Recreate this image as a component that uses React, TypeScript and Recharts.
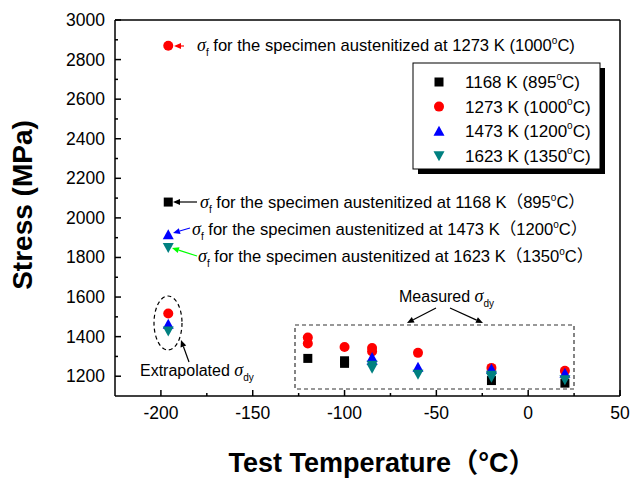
import React from 'react';
import {
  ScatterChart,
  Scatter,
  XAxis,
  YAxis,
  ReferenceLine,
  Customized,
} from 'recharts';

const FONT = "'Liberation Sans', Arial, 'Noto Sans CJK SC', sans-serif";
const SERIF = "'Liberation Serif', 'Times New Roman', serif";

// test temperature (°C) and stress (MPa) for each austenitizing temperature
const temps1168 = [-196, -120, -100, -100, -20, 20];
const stress1168 = [2080, 1290, 1265, 1278, 1178, 1165];

const temps1273 = [-196, -196, -120, -120, -100, -85, -85, -60, -20, 20];
const stress1273 = [2870, 1517, 1395, 1365, 1348, 1343, 1325, 1318, 1242, 1228];

const temps1473 = [-196, -196, -85, -85, -60, -20, 20];
const stress1473 = [1915, 1462, 1295, 1280, 1245, 1237, 1215];

const temps1623 = [-196, -196, -85, -85, -60, -20, -20, 20];
const stress1623 = [1850, 1428, 1255, 1240, 1210, 1205, 1195, 1182];

const xTicks = [-200, -175, -150, -125, -100, -75, -50, -25, 0, 25, 50];
const yTicks = [1200, 1300, 1400, 1500, 1600, 1700, 1800, 1900, 2000, 2100, 2200, 2300, 2400, 2500, 2600, 2700, 2800, 2900, 3000];

const toPoints = (xs: number[], ys: number[]) => xs.map((x, i) => ({ x, y: ys[i] }));

const Square = (p: any) => <rect x={p.cx - 4.5} y={p.cy - 4.5} width={9} height={9} fill="#000" />;
const Dot = (p: any) => <circle cx={p.cx} cy={p.cy} r={5} fill="#ff0000" />;
const Up = (p: any) => (
  <polygon points={`${p.cx},${p.cy - 5.5} ${p.cx + 5.5},${p.cy + 4.5} ${p.cx - 5.5},${p.cy + 4.5}`} fill="#0000ff" />
);
const Down = (p: any) => (
  <polygon points={`${p.cx - 5.5},${p.cy - 4.5} ${p.cx + 5.5},${p.cy - 4.5} ${p.cx},${p.cy + 5.5}`} fill="#008080" />
);

const XTick = (props: any) => {
  const { x, y, payload } = props;
  const major = payload.value % 50 === 0;
  return (
    <g>
      <line x1={x} y1={y} x2={x} y2={y - (major ? 6 : 3)} stroke="#000" strokeWidth={1.5} />
      {major && (
        <text x={x} y={y + 23} textAnchor="middle" fontSize={17.5} fontFamily={FONT} fill="#000">
          {payload.value}
        </text>
      )}
    </g>
  );
};

const YTick = (props: any) => {
  const { x, y, payload } = props;
  const major = (payload.value - 1200) % 200 === 0;
  return (
    <g>
      <line x1={x} y1={y} x2={x + (major ? 6 : 3)} y2={y} stroke="#000" strokeWidth={1.5} />
      {major && (
        <text x={x - 10} y={y + 6} textAnchor="end" fontSize={17.5} fontFamily={FONT} fill="#000">
          {payload.value}
        </text>
      )}
    </g>
  );
};

const Arrow = ({ x1, y1, x2, y2, color }: any) => {
  const a = Math.atan2(y2 - y1, x2 - x1);
  const len = 7;
  const w = 3;
  const bx = x2 - len * Math.cos(a);
  const by = y2 - len * Math.sin(a);
  const px = -Math.sin(a) * w;
  const py = Math.cos(a) * w;
  return (
    <g>
      <line x1={x1} y1={y1} x2={bx} y2={by} stroke={color} strokeWidth={1.2} />
      <polygon points={`${x2},${y2} ${bx + px},${by + py} ${bx - px},${by - py}`} fill={color} />
    </g>
  );
};

// σf note next to each fracture-stress point
const SigmaNote = ({ x, y, kelvin, celsius, open, close }: any) => (
  <text x={x} y={y} fontSize={16.6} fontFamily={FONT} fill="#000">
    <tspan fontFamily={SERIF} fontStyle="italic" fontSize={18}>σ</tspan>
    <tspan fontSize={10} dy={5}>f</tspan>
    <tspan dy={-5}>{` for the specimen austenitized at ${kelvin} K${open}${celsius}`}</tspan>
    <tspan fontSize={10} dy={-7}>o</tspan>
    <tspan dy={7}>{`C${close}`}</tspan>
  </text>
);

const legendRows = [
  { label: '1168 K (895', shape: 'square' },
  { label: '1273 K (1000', shape: 'dot' },
  { label: '1473 K (1200', shape: 'up' },
  { label: '1623 K (1350', shape: 'down' },
];

const Overlay = () => (
  <g>
    {/* legend box with drop shadow */}
    <rect x={418} y={68} width={187} height={106} fill="#000" />
    <rect x={413} y={63} width={187} height={106} fill="#fff" stroke="#000" strokeWidth={1} />
    {legendRows.map((r, i) => {
      const cy = 82 + i * 24.6;
      const cx = 439;
      return (
        <g key={r.label}>
          {r.shape === 'square' && <Square cx={cx} cy={cy} />}
          {r.shape === 'dot' && <Dot cx={cx} cy={cy} />}
          {r.shape === 'up' && <Up cx={cx} cy={cy} />}
          {r.shape === 'down' && <Down cx={cx} cy={cy} />}
          <text x={465} y={cy + 6} fontSize={17} fontFamily={FONT} fill="#000">
            {r.label}
            <tspan fontSize={10} dy={-8}>o</tspan>
            <tspan dy={8}>C)</tspan>
          </text>
        </g>
      );
    })}

    {/* fracture stress notes */}
    <Arrow x1={184} y1={46} x2={174} y2={46} color="#ff0000" />
    <SigmaNote x={197} y={51} kelvin={1273} celsius={1000} open=" (" close=")" />
    <Arrow x1={197} y1={202} x2={173} y2={202} color="#000" />
    <SigmaNote x={200} y={208} kelvin={1168} celsius={895} open="（" close="）" />
    <Arrow x1={190} y1={228} x2={173} y2={233} color="#0000ff" />
    <SigmaNote x={192} y={235} kelvin={1473} celsius={1200} open="（" close="）" />
    <Arrow x1={197} y1={256} x2={172} y2={248} color="#00ff00" />
    <SigmaNote x={198} y={262} kelvin={1623} celsius={1350} open="（" close="）" />

    {/* measured yield stress group */}
    <rect x={295} y={325} width={279} height={64} fill="none" stroke="#333" strokeWidth={1.2} strokeDasharray="4 3" />
    <text x={399} y={302} fontSize={16} fontFamily={FONT} fill="#000">
      Measured <tspan fontFamily={SERIF} fontStyle="italic" fontSize={18}>σ</tspan>
      <tspan fontSize={10} dy={5}>dy</tspan>
    </text>
    <Arrow x1={436} y1={308} x2={407} y2={323} color="#000" />
    <Arrow x1={450} y1={308} x2={483} y2={323} color="#000" />

    {/* extrapolated yield stress group */}
    <ellipse cx={168} cy={323} rx={14} ry={27} fill="none" stroke="#000" strokeWidth={1.2} strokeDasharray="4 3" />
    <Arrow x1={189} y1={362} x2={181} y2={340} color="#000" />
    <text x={140} y={376} fontSize={16} fontFamily={FONT} fill="#000">
      Extrapolated <tspan fontFamily={SERIF} fontStyle="italic" fontSize={18}>σ</tspan>
      <tspan fontSize={10} dy={5}>dy</tspan>
    </text>

    {/* axis titles */}
    <text transform="translate(32,205) rotate(-90)" textAnchor="middle" fontSize={28} fontWeight="bold" fontFamily={FONT} fill="#000">
      Stress (MPa)
    </text>
    <text x={382} y={472} textAnchor="middle" fontSize={27} fontWeight="bold" fontFamily={FONT} fill="#000">
      Test Temperature（°C）
    </text>
  </g>
);

export default function App() {
  return (
    <div style={{ position: 'absolute', left: 0, top: 0, background: '#fff' }}>
      <ScatterChart width={632} height={479} margin={{ top: 20, right: 12, bottom: 0, left: 0 }}>
        <XAxis
          type="number"
          dataKey="x"
          domain={[-225, 50]}
          ticks={xTicks}
          interval={0}
          height={83}
          tickSize={0}
          tickMargin={0}
          tick={<XTick />}
          axisLine={{ stroke: '#000', strokeWidth: 1.5 }}
          allowDataOverflow
        />
        <YAxis
          type="number"
          dataKey="y"
          domain={[1100, 3000]}
          ticks={yTicks}
          interval={0}
          width={115}
          tickSize={0}
          tickMargin={0}
          tick={<YTick />}
          axisLine={{ stroke: '#000', strokeWidth: 1.5 }}
          allowDataOverflow
        />
        <ReferenceLine y={3000} stroke="#000" strokeWidth={1.5} />
        <ReferenceLine x={50} stroke="#000" strokeWidth={1.5} />
        <Scatter name="1168 K" data={toPoints(temps1168, stress1168)} shape={Square} isAnimationActive={false} />
        <Scatter name="1273 K" data={toPoints(temps1273, stress1273)} shape={Dot} isAnimationActive={false} />
        <Scatter name="1473 K" data={toPoints(temps1473, stress1473)} shape={Up} isAnimationActive={false} />
        <Scatter name="1623 K" data={toPoints(temps1623, stress1623)} shape={Down} isAnimationActive={false} />
        <Customized component={<Overlay />} />
      </ScatterChart>
    </div>
  );
}
